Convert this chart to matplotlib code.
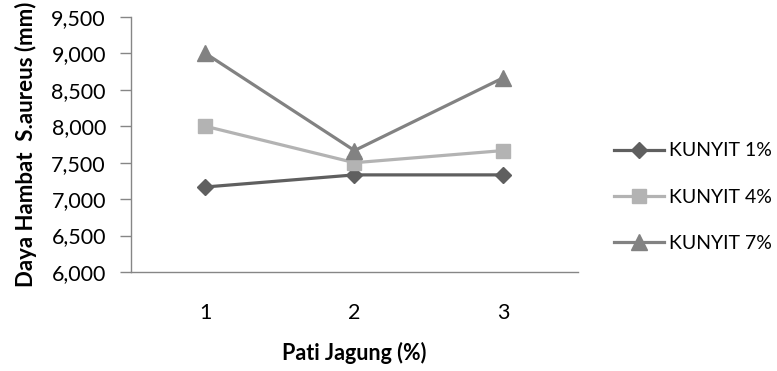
import matplotlib
matplotlib.use("Agg")
import matplotlib.pyplot as plt

plt.rcParams["font.family"] = ["Lato", "DejaVu Sans"]

categories = ["1", "2", "3"]
kunyit_1 = [7167, 7333, 7333]
kunyit_4 = [8000, 7500, 7667]
kunyit_7 = [9000, 7667, 8667]
series_names = ["KUNYIT 1%", "KUNYIT 4%", "KUNYIT 7%"]
y_ticks = [6000, 6500, 7000, 7500, 8000, 8500, 9000, 9500]

W, H = 777, 371
fig = plt.figure(figsize=(W / 100, H / 100), dpi=100)
ax = fig.add_axes([131 / W, 1 - 272 / H, (578 - 131) / W, (272 - 17) / H])

styles = [
    dict(color="#5f5f5f", marker="D", markersize=8),
    dict(color="#b3b3b3", marker="s", markersize=10),
    dict(color="#828282", marker="^", markersize=11),
]
x = range(1, len(categories) + 1)
for name, vals, st in zip(series_names, [kunyit_1, kunyit_4, kunyit_7], styles):
    ax.plot(x, vals, linewidth=2.3, label=name, **st)

ax.set_xlim(0.5, 3.5)
ax.set_ylim(6000, 9500)
ax.set_xticks(list(x))
ax.set_xticklabels(categories)
ax.set_yticks(y_ticks)
ax.set_yticklabels([f"{v:,}" for v in y_ticks])

for side in ("top", "right"):
    ax.spines[side].set_visible(False)
for side in ("left", "bottom"):
    ax.spines[side].set_color("#868686")
    ax.spines[side].set_linewidth(1.0)
ax.tick_params(axis="y", length=8, color="#868686", width=1.0, labelsize=15.5, pad=10)
ax.tick_params(axis="x", length=0, labelsize=15.5, pad=22)

ax.set_xlabel("Pati Jagung (%)", fontsize=15.5, fontweight="bold", labelpad=14)
ax.set_ylabel("Daya Hambat  S.aureus (mm)", fontsize=16, fontweight="bold", labelpad=10)

fig.legend(loc="center left", bbox_to_anchor=(606 / W, 1 - 197 / H),
           frameon=False, fontsize=14, handlelength=2.6, handletextpad=0.25,
           labelspacing=1.5, borderaxespad=0)

fig.savefig("out.png", dpi=100)
